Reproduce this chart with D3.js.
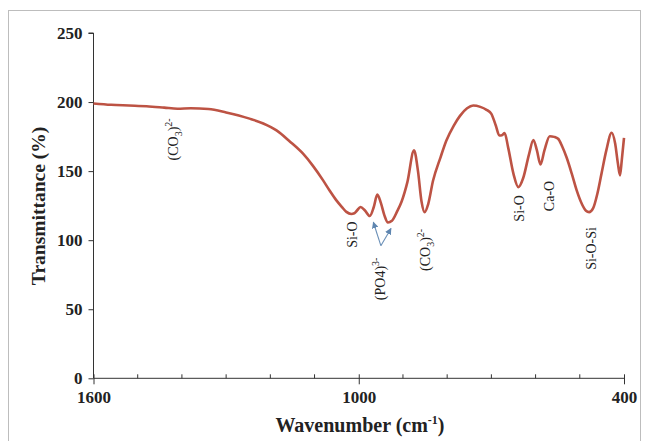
<!DOCTYPE html>
<html>
<head>
<meta charset="utf-8">
<script src="https://cdn.jsdelivr.net/npm/d3@7"></script>
<style>
  html, body { margin: 0; padding: 0; background: #fff; }
  svg { display: block; }
  text { font-family: "Liberation Serif", "Times New Roman", serif; fill: #222; }
</style>
</head>
<body>
<svg id="chart" width="646" height="441"></svg>
<script>
// FTIR spectrum: wavenumber (cm-1) vs transmittance (%)
const wavenumber = [1600, 1560, 1520, 1480, 1440, 1410, 1380, 1340, 1300, 1247, 1216, 1186, 1156, 1126, 1104,
  1081, 1066, 1051, 1038, 1028, 1017, 1010, 1004, 996, 986, 975, 966, 958, 950, 942, 934, 925, 913, 903, 890, 875,
  866, 858, 851, 843, 832, 815, 802, 785, 771, 755, 741, 725, 711, 700, 690, 682, 676, 670, 662, 650,
  639, 628, 615, 605, 597, 589, 580, 568, 558, 549, 540, 530, 518, 507, 495, 486, 479, 470, 460, 451,
  440, 428, 420, 414, 409, 405, 400];
const transmittance = [199, 198, 197.5, 197, 196, 195.2, 195.5, 195, 192.5, 188, 184.5, 179.5, 171.5, 162.6, 154,
  143.5, 136, 129, 124, 120.5, 119, 119.5, 121.5, 124, 121.5, 117.5, 124, 133, 127, 118, 112.8, 114, 121, 128, 142, 165,
  150, 128, 120.3, 126, 143, 160, 172, 183, 190, 195.5, 197.5, 196.5, 194.4, 191.5, 183, 175.8, 176, 177.5, 167, 148,
  138.4, 145, 162, 172.5, 165, 154.8, 165, 175.3, 174.8, 173.4, 168, 160, 148, 136, 126, 121.3, 120.3, 123, 134, 148,
  165, 177.8, 170, 156, 146.9, 158, 174];

const xTicks = [1600, 1000, 400];
const xMinorTicks = [1500, 1400, 1300, 1200, 1100, 900, 800, 700, 600, 500];
const yTicks = [0, 50, 100, 150, 200, 250];

// Band assignments: label text parts, wavenumber position, vertical centre (transmittance)
const bandLabels = [
  { parts: [["(CO", 0], ["3", -1], [")", 0], ["2-", 1]], wn: 1421, t: 173 },
  { parts: [["Si-O", 0]], wn: 1016, t: 104 },
  { parts: [["(PO4)", 0], ["3-", 1]], wn: 952, t: 72 },
  { parts: [["(CO", 0], ["3", -1], [")", 0], ["2-", 1]], wn: 850, t: 93 },
  { parts: [["Si-O", 0]], wn: 637, t: 123 },
  { parts: [["Ca-O", 0]], wn: 570, t: 132 },
  { parts: [["Si-O-Si", 0]], wn: 474, t: 94 }
];

// Arrows pointing from the (PO4)3- label to its two bands
const arrowBase = { wn: 950, t: 96 };
const arrowTips = [{ wn: 967, t: 113 }, { wn: 927, t: 108.5 }];

const svg = d3.select("#chart");

// outer frame
svg.append("rect")
  .attr("x", 8.5).attr("y", 10.5)
  .attr("width", 632).attr("height", 440)
  .attr("fill", "none").attr("stroke", "#bdbdbd").attr("stroke-width", 1);

const x = d3.scaleLinear().domain([1600, 400]).range([93.5, 624]);
const y = d3.scaleLinear().domain([0, 250]).range([378.3, 33]);

const serif = '"Liberation Serif", "Times New Roman", serif';

// y axis
const yAxis = svg.append("g")
  .attr("transform", `translate(${x(1600)},0)`)
  .call(d3.axisLeft(y).tickValues(yTicks).tickSize(5).tickPadding(6).tickFormat(d3.format("d")));
yAxis.select(".domain").attr("stroke", "#333").attr("d", `M-5,${y(250)}H0V${y(0)}`);
yAxis.selectAll(".tick line").attr("stroke", "#333");
yAxis.selectAll(".tick text")
  .style("font-family", serif)
  .style("font-weight", "bold").style("font-size", "17px").attr("fill", "#222");

// x axis: major ticks below, minor ticks above
const xAxis = svg.append("g")
  .attr("transform", `translate(0,${y(0)})`)
  .call(d3.axisBottom(x).tickValues(xTicks).tickSize(6).tickPadding(7).tickFormat(d3.format("d")));
xAxis.select(".domain").attr("stroke", "#333").attr("d", `M${x(1600)},0H${x(400)}`);
xAxis.selectAll(".tick line").attr("stroke", "#333").attr("y1", -4);
xAxis.selectAll(".tick text")
  .style("font-family", serif)
  .style("font-weight", "bold").style("font-size", "17px").attr("fill", "#222");
xAxis.selectAll(".minor")
  .data(xMinorTicks).enter().append("line")
  .attr("class", "minor")
  .attr("x1", d => x(d)).attr("x2", d => x(d))
  .attr("y1", -4).attr("y2", 0)
  .attr("stroke", "#333");

// axis titles
svg.append("text")
  .attr("transform", `translate(45,206) rotate(-90)`)
  .attr("text-anchor", "middle")
  .style("font-weight", "bold").style("font-size", "19.5px")
  .text("Transmittance (%)");

const xt = svg.append("text")
  .attr("x", 360).attr("y", 432)
  .attr("text-anchor", "middle")
  .style("font-weight", "bold").style("font-size", "20px");
xt.append("tspan").text("Wavenumber (cm");
xt.append("tspan").attr("dy", -8).style("font-size", "12px").text("-1");
xt.append("tspan").attr("dy", 8).text(")");

// spectrum line
const pts = wavenumber.map((w, i) => [w, transmittance[i]]);
svg.append("path")
  .datum(pts)
  .attr("fill", "none")
  .attr("stroke", "#bd5344")
  .attr("stroke-width", 2.6)
  .attr("stroke-linejoin", "round")
  .attr("d", d3.line().x(d => x(d[0])).y(d => y(d[1])).curve(d3.curveMonotoneX));

// band labels, rotated to read upwards
bandLabels.forEach(b => {
  const t = svg.append("text")
    .attr("transform", `translate(${x(b.wn) + 5},${y(b.t)}) rotate(-90)`)
    .attr("text-anchor", "middle")
    .style("font-size", "14px");
  let shift = 0;
  b.parts.forEach(([s, lvl]) => {
    const dy = (lvl === 1 ? -6 : lvl === -1 ? 4 : 0) - shift;
    shift += dy;
    t.append("tspan")
      .attr("dy", dy)
      .style("font-size", lvl === 0 ? "14px" : "10px")
      .text(s);
  });
});

// arrows
const defs = svg.append("defs");
defs.append("marker")
  .attr("id", "arrowhead")
  .attr("viewBox", "0 0 10 10")
  .attr("refX", 9).attr("refY", 5)
  .attr("markerWidth", 6).attr("markerHeight", 6)
  .attr("orient", "auto")
  .append("path").attr("d", "M0,0L10,5L0,10Z").attr("fill", "#5f86b0");

arrowTips.forEach(tip => {
  svg.append("line")
    .attr("x1", x(arrowBase.wn)).attr("y1", y(arrowBase.t))
    .attr("x2", x(tip.wn)).attr("y2", y(tip.t))
    .attr("stroke", "#6a8fb7").attr("stroke-width", 1.1)
    .attr("marker-end", "url(#arrowhead)");
});
</script>
</body>
</html>
